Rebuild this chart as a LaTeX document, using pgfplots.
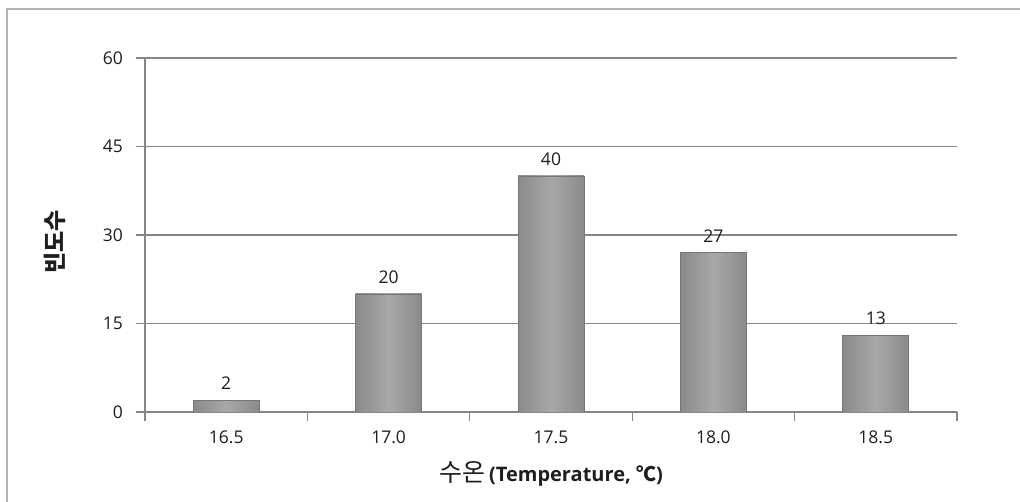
\documentclass[border=0pt]{standalone}
\usepackage{fontspec}
\setmainfont{Open Sans}
\newfontfamily\kr{Noto Sans CJK KR}
\usepackage{pgfplots}
\pgfplotsset{compat=1.18}
\definecolor{gridc}{RGB}{134,134,134}
\definecolor{barL}{RGB}{138,138,138}
\definecolor{barM}{RGB}{168,168,168}
\definecolor{barD}{RGB}{118,118,118}
\definecolor{txt}{RGB}{30,30,30}
\pgfplotsset{mybar/.style={ybar, bar width=66pt, bar shift=0pt, draw=barD, line width=0.8pt, left color=barL, right color=barL, middle color=barM, mark=none}}
\begin{document}
\fontsize{15}{18}\selectfont
\begin{tikzpicture}
\useasboundingbox (0,0) rectangle (1020pt,502pt);
\fill[white] (0,0) rectangle (1020pt,502pt);
\draw[gray!60, line width=1.5pt] (7pt,0) -- (7pt,493pt) -- (1020pt,493pt);
\begin{axis}[
  at={(145pt,90pt)}, anchor=south west,
  scale only axis, width=812pt, height=354pt,
  xmin=-0.5, xmax=4.5, ymin=0, ymax=60,
  ytick={0,15,30,45,60},
  xtick={-0.5,0.5,1.5,2.5,3.5,4.5}, xticklabels={},
  extra x ticks={0,1,2,3,4},
  extra x tick labels={16.5,17.0,17.5,18.0,18.5},
  extra x tick style={major tick length=0pt, grid=none},
  axis x line*=bottom, axis y line*=left,
  ymajorgrids, grid style={gridc, line width=1.3pt},
  axis line style={gridc, line width=1.3pt},
  tick style={gridc, line width=1.3pt},
  major tick length=9pt, tick align=outside,
  tick label style={txt, font=\fontsize{17.5}{20}\selectfont},
  /pgf/number format/assume math mode=true,
  yticklabel style={xshift=-8pt},
  xticklabel style={yshift=-14pt},
  xlabel={{\kr\fontsize{25}{27}\selectfont 수온} {\fontsize{20}{23}\selectfont\bfseries (Temperature, {\kr ℃})}},
  ylabel={{\kr\bfseries\fontsize{23}{25}\selectfont 빈도수}},
  label style={txt},
  xlabel style={at={(axis description cs:0.5,-0.175)}, anchor=center},
  ylabel style={at={(axis description cs:-0.111,0.48)}, anchor=center},
  nodes near coords,
  nodes near coords style={txt, font=\fontsize{17.5}{20}\selectfont, yshift=5pt},
  /pgf/number format/fixed,
]
\addplot[mybar] coordinates {(0,2)};
\addplot[mybar] coordinates {(1,20)};
\addplot[mybar] coordinates {(2,40)};
\addplot[mybar] coordinates {(3,27)};
\addplot[mybar] coordinates {(4,13)};
\end{axis}
\end{tikzpicture}
\end{document}
